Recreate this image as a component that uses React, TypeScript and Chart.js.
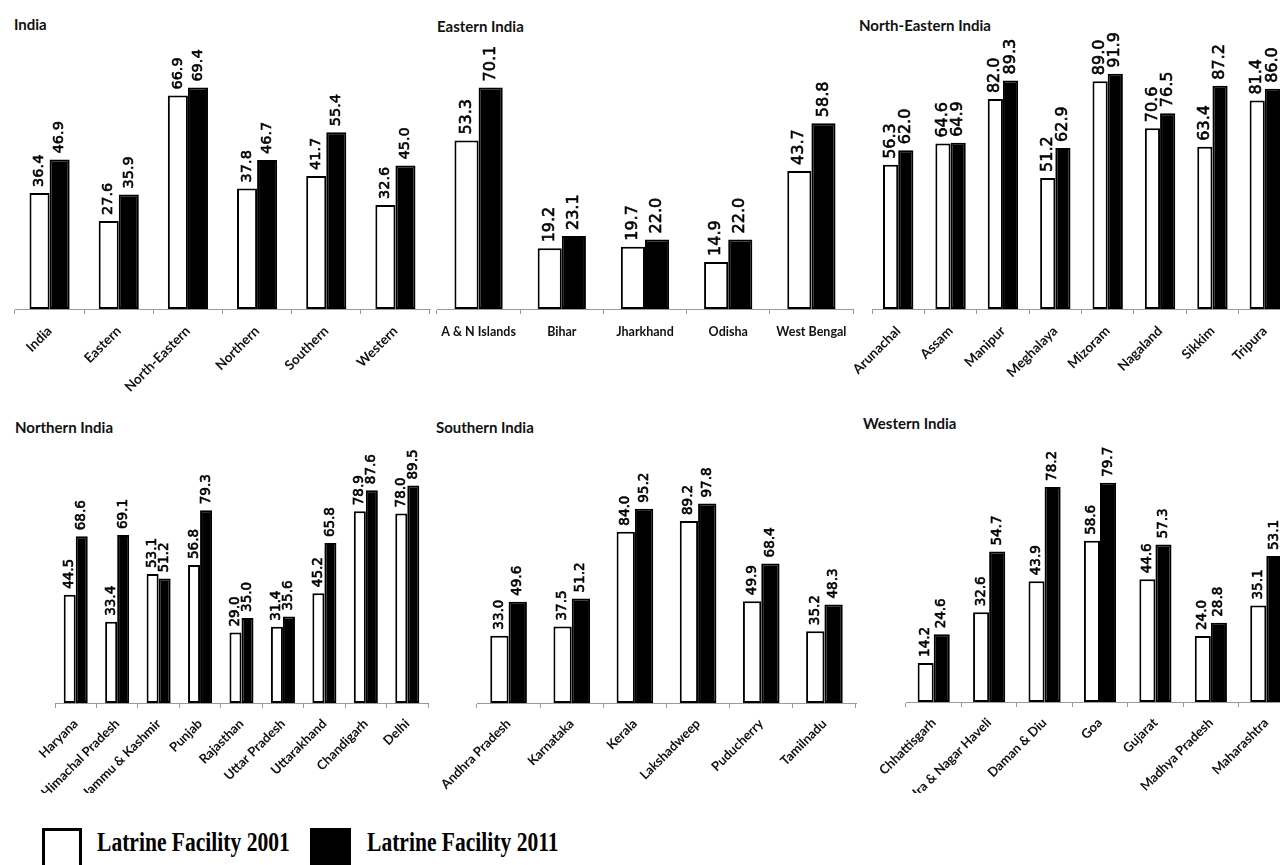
import React, { useEffect, useRef } from "react";
import { Chart, registerables } from "chart.js";

Chart.register(...registerables);

// ---------------- DATA ----------------
const indiaLabels = ["India", "Eastern", "North-Eastern", "Northern", "Southern", "Western"];
const india2001 = [36.4, 27.6, 66.9, 37.8, 41.7, 32.6];
const india2011 = [46.9, 35.9, 69.4, 46.7, 55.4, 45.0];

const easternLabels = ["A & N Islands", "Bihar", "Jharkhand", "Odisha", "West Bengal"];
const eastern2001 = [53.3, 19.2, 19.7, 14.9, 43.7];
const eastern2011 = [70.1, 23.1, 22.0, 22.0, 58.8];

const northEasternLabels = ["Arunachal", "Assam", "Manipur", "Meghalaya", "Mizoram", "Nagaland", "Sikkim", "Tripura"];
const northEastern2001 = [56.3, 64.6, 82.0, 51.2, 89.0, 70.6, 63.4, 81.4];
const northEastern2011 = [62.0, 64.9, 89.3, 62.9, 91.9, 76.5, 87.2, 86.0];

const northernLabels = ["Haryana", "Himachal Pradesh", "Jammu & Kashmir", "Punjab", "Rajasthan", "Uttar Pradesh", "Uttarakhand", "Chandigarh", "Delhi"];
const northern2001 = [44.5, 33.4, 53.1, 56.8, 29.0, 31.4, 45.2, 78.9, 78.0];
const northern2011 = [68.6, 69.1, 51.2, 79.3, 35.0, 35.6, 65.8, 87.6, 89.5];

const southernLabels = ["Andhra Pradesh", "Karnataka", "Kerala", "Lakshadweep", "Puducherry", "Tamilnadu"];
const southern2001 = [33.0, 37.5, 84.0, 89.2, 49.9, 35.2];
const southern2011 = [49.6, 51.2, 95.2, 97.8, 68.4, 48.3];

const westernLabels = ["Chhattisgarh", "Dadra & Nagar Haveli", "Daman & Diu", "Goa", "Gujarat", "Madhya Pradesh", "Maharashtra"];
const western2001 = [14.2, 32.6, 43.9, 58.6, 44.6, 24.0, 35.1];
const western2011 = [24.6, 54.7, 78.2, 79.7, 57.3, 28.8, 53.1];

const seriesNames = ["Latrine Facility 2001", "Latrine Facility 2011"];

// ---------------- PANEL ----------------
type PanelProps = {
  labels: string[];
  v2001: number[];
  v2011: number[];
  plotLeft: number;
  plotRight: number;
  axisY: number;
  yMax: number;
  pxPerUnit: number;
  canvasTop: number;
  canvasBottom: number;
  padL: number;
  padR: number;
  rotation: number;
  tickFont: number;
  valueFont: number;
  tickPad: number;
};

const valueLabelPlugin = {
  id: "valueLabels",
  afterDatasetsDraw(chart: any, _args: any, opts: any) {
    const ctx = chart.ctx;
    ctx.save();
    ctx.fillStyle = "#000";
    ctx.strokeStyle = "#000";
    ctx.lineWidth = 0.6;
    ctx.font = `${opts.size}px "DejaVu Sans"`;
    ctx.textAlign = "left";
    ctx.textBaseline = "middle";
    chart.data.datasets.forEach((ds: any, di: number) => {
      const meta = chart.getDatasetMeta(di);
      meta.data.forEach((bar: any, i: number) => {
        const v = ds.data[i];
        ctx.save();
        ctx.translate(bar.x, bar.y - 6);
        ctx.rotate(-Math.PI / 2);
        ctx.fillText(v.toFixed(1), 0, 0);
        ctx.strokeText(v.toFixed(1), 0, 0);
        ctx.restore();
      });
    });
    ctx.restore();
  },
};

function Panel(p: PanelProps) {
  const ref = useRef<HTMLCanvasElement | null>(null);
  const width = p.plotRight - p.plotLeft + p.padL + p.padR;
  const height = p.canvasBottom - p.canvasTop;
  const chartTop = p.axisY - p.yMax * p.pxPerUnit;
  const axisH = p.canvasBottom - p.axisY;

  useEffect(() => {
    if (!ref.current) return;
    const chart = new Chart(ref.current, {
      type: "bar",
      data: {
        labels: p.labels,
        datasets: [
          {
            label: seriesNames[0],
            data: p.v2001,
            backgroundColor: "#ffffff",
            borderColor: "#000000",
            borderWidth: 2,
            borderSkipped: false,
            categoryPercentage: 0.58,
            barPercentage: 1,
          },
          {
            label: seriesNames[1],
            data: p.v2011,
            backgroundColor: "#000000",
            borderColor: "#000000",
            borderWidth: 2,
            borderSkipped: false,
            categoryPercentage: 0.58,
            barPercentage: 1,
          },
        ],
      },
      options: {
        responsive: false,
        animation: false,
        devicePixelRatio: window.devicePixelRatio || 1,
        layout: {
          padding: { left: p.padL, right: p.padR, top: chartTop - p.canvasTop, bottom: 0 },
        },
        plugins: {
          legend: { display: false },
          tooltip: { enabled: false },
          title: { display: false },
          valueLabels: { size: p.valueFont },
        } as any,
        scales: {
          x: {
            grid: {
              display: true,
              drawOnChartArea: false,
              drawTicks: true,
              tickLength: 5,
              color: "#9a9a9a",
              offset: true,
            },
            border: { display: true, color: "#9a9a9a", width: 1 },
            ticks: {
              autoSkip: false,
              minRotation: p.rotation,
              maxRotation: p.rotation,
              padding: p.tickPad,
              color: "#111",
              font: { family: "Lato", weight: "bold", size: p.tickFont },
            },
            afterFit: (scale: any) => {
              scale.height = axisH;
              scale.paddingLeft = 0;
              scale.paddingRight = 0;
              scale.paddingTop = 0;
              scale.paddingBottom = 0;
            },
          },
          y: { display: false, min: 0, max: p.yMax },
        },
      },
      plugins: [valueLabelPlugin],
    } as any);
    return () => chart.destroy();
  }, []);

  return (
    <canvas
      ref={ref}
      width={width}
      height={height}
      style={{
        position: "absolute",
        left: p.plotLeft - p.padL,
        top: p.canvasTop,
        width,
        height,
      }}
    />
  );
}

const titleStyle = (left: number, top: number): React.CSSProperties => ({
  position: "absolute",
  left,
  top,
  fontFamily: "Lato",
  fontWeight: 700,
  fontSize: 15,
  lineHeight: "15px",
  color: "#111",
  whiteSpace: "nowrap",
});

const legendTextStyle = (left: number): React.CSSProperties => ({
  position: "absolute",
  left,
  top: 828,
  fontFamily: '"Liberation Serif", "Times New Roman", serif',
  fontWeight: 700,
  fontSize: 28,
  lineHeight: "28px",
  color: "#000",
  whiteSpace: "nowrap",
  transform: "scaleX(0.77)",
  transformOrigin: "left top",
});

export default function App() {
  return (
    <div
      style={{
        position: "absolute",
        left: 0,
        top: 0,
        width: 1280,
        height: 865,
        overflow: "hidden",
        background: "#fff",
      }}
    >
      <div style={titleStyle(14, 17)}>India</div>
      <div style={titleStyle(437, 19)}>Eastern India</div>
      <div style={titleStyle(859, 18)}>North-Eastern India</div>
      <div style={titleStyle(15, 420)}>Northern India</div>
      <div style={titleStyle(436, 420)}>Southern India</div>
      <div style={titleStyle(863, 416)}>Western India</div>

      <Panel labels={indiaLabels} v2001={india2001} v2011={india2011}
        plotLeft={15} plotRight={430} axisY={309} yMax={90} pxPerUnit={3.19}
        canvasTop={5} canvasBottom={400} padL={15} padR={5}
        rotation={45} tickFont={13.5} valueFont={14.5} tickPad={9} />
      <Panel labels={easternLabels} v2001={eastern2001} v2011={eastern2011}
        plotLeft={437} plotRight={853} axisY={309} yMax={90} pxPerUnit={3.16}
        canvasTop={5} canvasBottom={400} padL={10} padR={5}
        rotation={0} tickFont={12.5} valueFont={16} tickPad={10} />
      <Panel labels={northEasternLabels} v2001={northEastern2001} v2011={northEastern2011}
        plotLeft={872} plotRight={1291} axisY={309} yMax={110} pxPerUnit={2.56}
        canvasTop={5} canvasBottom={400} padL={30} padR={5}
        rotation={45} tickFont={13.5} valueFont={16} tickPad={9} />

      <Panel labels={northernLabels} v2001={northern2001} v2011={northern2011}
        plotLeft={55} plotRight={428} axisY={703} yMax={110} pxPerUnit={2.43}
        canvasTop={405} canvasBottom={793} padL={55} padR={3}
        rotation={45} tickFont={13} valueFont={13.5} tickPad={8} />
      <Panel labels={southernLabels} v2001={southern2001} v2011={southern2011}
        plotLeft={477} plotRight={856} axisY={703} yMax={130} pxPerUnit={2.04}
        canvasTop={405} canvasBottom={793} padL={50} padR={3}
        rotation={45} tickFont={13} valueFont={13.5} tickPad={8} />
      <Panel labels={westernLabels} v2001={western2001} v2011={western2011}
        plotLeft={906} plotRight={1294} axisY={702} yMax={100} pxPerUnit={2.75}
        canvasTop={405} canvasBottom={793} padL={45} padR={3}
        rotation={45} tickFont={13} valueFont={13.5} tickPad={8} />

      <div style={{ position: "absolute", left: 42, top: 828, width: 40, height: 40, border: "3px solid #000", boxSizing: "border-box", background: "#fff" }} />
      <div style={legendTextStyle(97)}>{seriesNames[0]}</div>
      <div style={{ position: "absolute", left: 310, top: 828, width: 41, height: 40, background: "#000" }} />
      <div style={legendTextStyle(367)}>{seriesNames[1]}</div>
    </div>
  );
}
